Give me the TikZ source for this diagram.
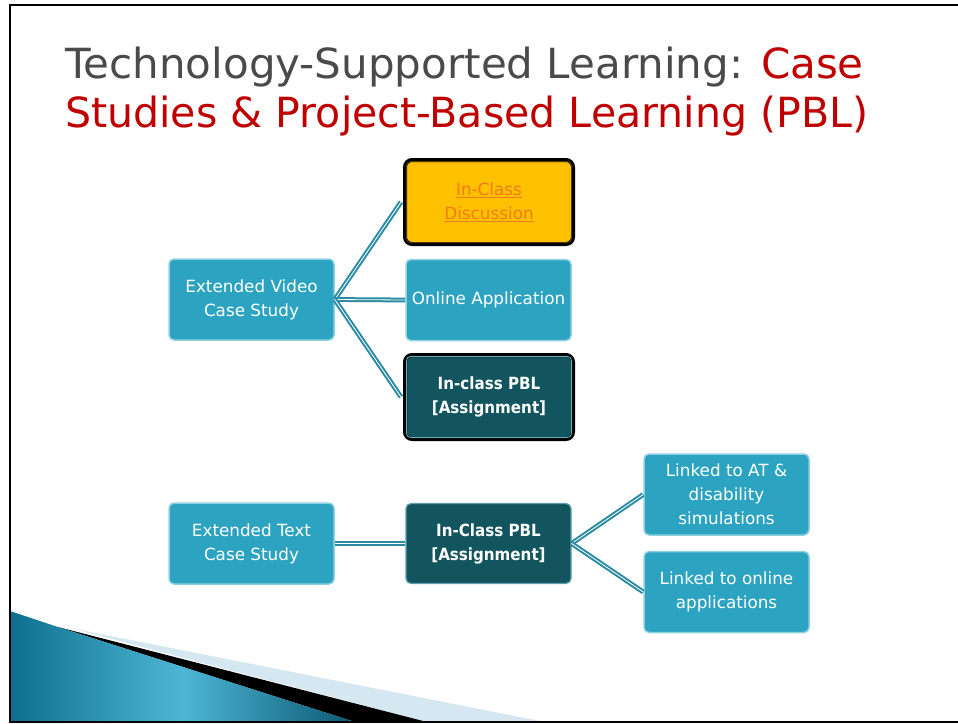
\documentclass[tikz,border=0pt]{standalone}
\usepackage{fontspec}
\setmainfont{DejaVu Sans}
\usetikzlibrary{shadings}
\definecolor{lteal}{HTML}{2CA3C1}
\definecolor{lborder}{HTML}{8FD0E2}
\definecolor{dteal}{HTML}{12555F}
\definecolor{conn}{HTML}{2A8BA3}
\definecolor{gold}{HTML}{FFC000}
\definecolor{orangetxt}{HTML}{F07C1C}
\definecolor{titlegray}{HTML}{4A4A4A}
\definecolor{titlered}{HTML}{C00000}
\definecolor{wedgedark}{HTML}{0E6F8E}
\definecolor{wedgelight}{HTML}{4DB6D6}
\definecolor{paleband}{HTML}{D5E8F1}
\newcommand{\boldlines}[2]{\scalebox{0.9}[1]{\begin{tabular}{@{}c@{}}#1\\\relax #2\end{tabular}}}
\tikzset{
  box/.style={rounded corners=5, align=center, text=white, font=\fontsize{16.8}{24}\selectfont, inner sep=2},
  lightbox/.style={box, fill=lteal, draw=lborder, line width=1.5, minimum width=165, minimum height=81},
  boldtext/.style={font=\bfseries\fontsize{16.8}{24}\selectfont},
  darkbox/.style={box, fill=dteal, draw=lborder!60!dteal, line width=1.2, minimum width=165, minimum height=80, boldtext},
  blackframe/.style={draw=black, line width=4, rounded corners=7, minimum width=168, minimum height=84},
  connector/.style={draw=conn, line width=2, double=white, double distance=0.8},
  titlefont/.style={font=\fontsize{41.5}{50}\selectfont},
}
\begin{document}
\begin{tikzpicture}[x=1pt,y=-1pt]
\useasboundingbox (0,0) rectangle (958,723);
\fill[white] (0,0) rectangle (958,723);
% bottom-left decoration
\fill[paleband] (70,628) -- (545,722) -- (427,722) -- cycle;
\fill[black] (58,627) -- (427,722) -- (355,722) -- cycle;
\shade[left color=wedgedark, right color=wedgedark!80!black, middle color=wedgelight] (10,611) -- (58,627) -- (355,722) -- (10,722) -- cycle;
% frame
\draw[line width=2.2] (958,5) -- (10,5) -- (10,722) -- (958,722);
% title
\node[anchor=base west, inner sep=0, titlefont, text=titlegray] (t1) at (65,78) {\scalebox{1.012}[1]{Technology-Supported Learning: \textcolor{titlered}{Case}}};
\node[anchor=base west, inner sep=0, titlefont, text=titlered] (t2) at (65,127.5) {\scalebox{0.99}[1]{Studies \& Project-Based Learning (PBL)}};
% upper group
\node[lightbox] (vid) at (251.5,299.5) {Extended Video\\Case Study};
\node[box, fill=gold, blackframe, text=orangetxt] (disc) at (489,202) {\underline{In-Class}\\\underline{Discussion}};
\draw[line width=0.8, draw=black!70!gold, rounded corners=4] ([shift={(3.5,3.5)}]disc.north west) rectangle ([shift={(-3.5,-3.5)}]disc.south east);
\node[lightbox] (onl) at (488.5,300) {Online Application};
\node[box, fill=dteal, blackframe, boldtext] (pbl1) at (489,397) {\boldlines{In-class PBL}{[Assignment]}};
\draw[line width=0.8, draw=lborder!70!dteal, rounded corners=4] ([shift={(3.5,3.5)}]pbl1.north west) rectangle ([shift={(-3.5,-3.5)}]pbl1.south east);
\draw[connector] (vid.east) -- ([xshift=-2]disc.west);
\draw[connector] (vid.east) -- (onl.west);
\draw[connector] (vid.east) -- ([xshift=-2]pbl1.west);
% lower group
\node[lightbox] (txt) at (251.5,543.5) {Extended Text\\Case Study};
\node[darkbox] (pbl2) at (488.5,543.5) {\boldlines{In-Class PBL}{[Assignment]}};
\node[lightbox] (at) at (726.5,494.5) {Linked to AT \&\\disability\\simulations};
\node[lightbox] (onl2) at (726.5,592) {Linked to online\\applications};
\draw[connector] (txt.east) -- (pbl2.west);
\draw[connector] (pbl2.east) -- (at.west);
\draw[connector] (pbl2.east) -- (onl2.west);
\end{tikzpicture}
\end{document}
